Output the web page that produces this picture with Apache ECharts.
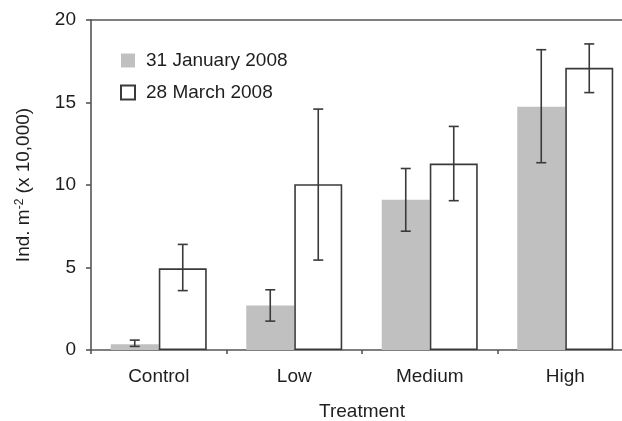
<!DOCTYPE html>
<html>
<head>
<meta charset="utf-8">
<script src="https://cdn.jsdelivr.net/npm/echarts@6/dist/echarts.min.js"></script>
<style>
html,body{margin:0;padding:0;background:#fff;}
#chart{width:622px;height:421px;}
</style>
</head>
<body>
<div id="chart"></div>
<script>
var categories = ['Control', 'Low', 'Medium', 'High'];
var seriesNames = ['31 January 2008', '28 March 2008'];
var janValues = [0.35, 2.7, 9.1, 14.75];
var janErrLow = [0.22, 1.75, 7.2, 11.35];
var janErrHigh = [0.6, 3.65, 11.0, 18.2];
var marValues = [4.95, 10.05, 11.3, 17.1];
var marErrLow = [3.6, 5.45, 9.05, 15.6];
var marErrHigh = [6.4, 14.6, 13.55, 18.55];
var yTicks = [0, 5, 10, 15, 20];

var FONT = '"Liberation Sans", Arial, sans-serif';
var TEXT = '#1e1e1e';
var LINE = '#555';
var BAR_W = 48;
var FS = 19;

function errSeries(lows, highs, offset) {
  var data = categories.map(function (c, i) { return [i, lows[i], highs[i]]; });
  return {
    type: 'custom',
    z: 10,
    silent: true,
    data: data,
    encode: { x: 0, y: [1, 2] },
    renderItem: function (params, api) {
      var lo = api.coord([api.value(0), api.value(1)]);
      var hi = api.coord([api.value(0), api.value(2)]);
      var x = lo[0] + offset;
      var cap = 5;
      var style = { stroke: '#3a3a3a', lineWidth: 1.6 };
      return {
        type: 'group',
        children: [
          { type: 'line', shape: { x1: x, y1: lo[1], x2: x, y2: hi[1] }, style: style },
          { type: 'line', shape: { x1: x - cap, y1: lo[1], x2: x + cap, y2: lo[1] }, style: style },
          { type: 'line', shape: { x1: x - cap, y1: hi[1], x2: x + cap, y2: hi[1] }, style: style }
        ]
      };
    }
  };
}

var chart = echarts.init(document.getElementById('chart'));
chart.setOption({
  backgroundColor: '#fff',
  animation: false,
  textStyle: { fontFamily: FONT },
  grid: { left: 91, top: 20, width: 542, height: 330, containLabel: false, outerBoundsMode: 'none' },
  legend: {
    orient: 'vertical',
    left: 120,
    top: 51,
    padding: 0,
    itemWidth: 14,
    itemHeight: 14,
    itemGap: 13,
    icon: 'rect',
    data: seriesNames,
    textStyle: { fontSize: FS, color: TEXT, fontFamily: FONT, padding: [0, 0, 0, 6] }
  },
  xAxis: [{
    type: 'category',
    data: categories,
    position: 'bottom',
    name: 'Treatment',
    nameLocation: 'middle',
    nameGap: 52,
    nameTextStyle: { fontSize: FS, color: TEXT, fontFamily: FONT },
    axisLine: { show: true, lineStyle: { color: LINE, width: 1.6 } },
    axisTick: { show: true, length: 4, lineStyle: { color: LINE, width: 1.6 } },
    axisLabel: { fontSize: FS, color: TEXT, margin: 17, fontFamily: FONT },
    splitLine: { show: false }
  }, {
    type: 'category',
    data: categories,
    position: 'top',
    axisLine: { show: true, lineStyle: { color: LINE, width: 1.6 } },
    axisTick: { show: false },
    axisLabel: { show: false },
    splitLine: { show: false }
  }],
  yAxis: {
    type: 'value',
    min: yTicks[0],
    max: yTicks[yTicks.length - 1],
    interval: yTicks[1] - yTicks[0],
    name: 'Ind. m{sup|-2} (x 10,000)',
    nameLocation: 'middle',
    nameRotate: 90,
    nameGap: 57,
    nameTextStyle: {
      fontSize: FS, color: TEXT, fontFamily: FONT,
      rich: { sup: { fontSize: 12, color: TEXT, fontFamily: FONT, verticalAlign: 'top', padding: [0, 0, 8, 0] } }
    },
    axisLine: { show: true, lineStyle: { color: LINE, width: 1.6 } },
    axisTick: { show: true, length: 5, lineStyle: { color: LINE, width: 1.6 } },
    axisLabel: { fontSize: FS, color: TEXT, margin: 15, fontFamily: FONT },
    splitLine: { show: false }
  },
  series: [{
    name: seriesNames[0],
    type: 'bar',
    data: janValues,
    barWidth: BAR_W,
    barGap: '0%',
    itemStyle: { color: '#c0c0c0' }
  }, {
    name: seriesNames[1],
    type: 'bar',
    data: marValues,
    barWidth: BAR_W,
    barGap: '0%',
    itemStyle: { color: '#ffffff', borderColor: '#3a3a3a', borderWidth: 1.6 }
  },
  errSeries(janErrLow, janErrHigh, -BAR_W / 2),
  errSeries(marErrLow, marErrHigh, BAR_W / 2)
  ]
});
</script>
</body>
</html>
